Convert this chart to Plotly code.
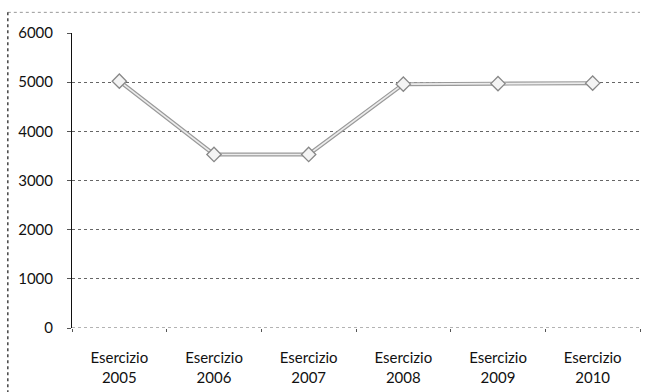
import plotly.graph_objects as go

categories = ["Esercizio<br>2005", "Esercizio<br>2006", "Esercizio<br>2007",
              "Esercizio<br>2008", "Esercizio<br>2009", "Esercizio<br>2010"]
values = [5020, 3530, 3530, 4960, 4970, 4980]
y_ticks = [0, 1000, 2000, 3000, 4000, 5000, 6000]

fig = go.Figure()
fig.add_trace(go.Scatter(x=categories, y=values, mode="lines",
                         line=dict(color="#9a9a9a", width=4), hoverinfo="skip",
                         showlegend=False))
fig.add_trace(go.Scatter(x=categories, y=values, mode="lines+markers",
                         line=dict(color="#ececec", width=1.6),
                         marker=dict(symbol="diamond", size=11, color="#f4f4f4",
                                     line=dict(color="#888", width=1.3)),
                         showlegend=False))

fig.update_layout(
    width=648, height=392,
    margin=dict(l=72, r=8, t=33, b=64),
    paper_bgcolor="white", plot_bgcolor="white",
    font=dict(family="Lato, Open Sans, sans-serif", size=15, color="#111"),
    xaxis=dict(type="category", range=[-0.5, 5.5], showgrid=False, showline=False,
               ticks="outside", tickson="boundaries", ticklen=3, tickcolor="#555",
               tickfont=dict(size=15), ticklabelstandoff=19, automargin=False),
    yaxis=dict(range=[0, 6000], tickvals=y_ticks, showgrid=True,
               gridcolor="#666", griddash="dot", gridwidth=1,
               showline=True, linecolor="#111", linewidth=1,
               ticks="outside", ticklen=4, tickcolor="#555",
               ticklabelstandoff=11, automargin=False,
               zeroline=False, tickfont=dict(size=15)),
    shapes=[
        dict(type="line", xref="paper", yref="paper", x0=-0.113, x1=1.0, y0=1.07, y1=1.07,
             line=dict(color="#999", width=1, dash="dot")),
        dict(type="line", xref="paper", yref="paper", x0=-0.113, x1=-0.113, y0=1.07, y1=-0.3,
             line=dict(color="#444", width=1.5, dash="dot")),
        dict(type="line", xref="x domain", yref="y", x0=0, x1=1, y0=0, y1=0,
             line=dict(color="#666", width=1, dash="dot")),
    ],
)

fig.write_html("out.html", config={"displayModeBar": False},
               post_script="document.body.style.margin='0';")
